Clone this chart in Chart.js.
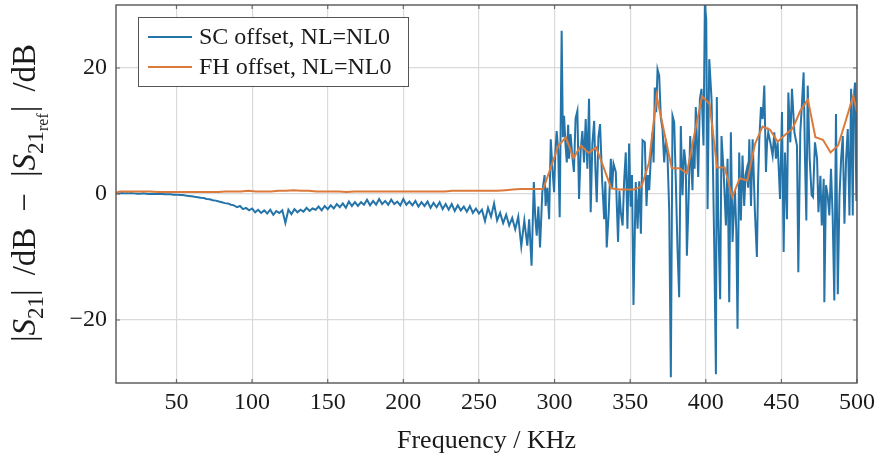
<!DOCTYPE html>
<html>
<head>
<meta charset="utf-8">
<script src="https://cdn.jsdelivr.net/npm/chart.js@4.4.1/dist/chart.umd.min.js"></script>
<style>
html, body { margin: 0; padding: 0; background: #fff; }
</style>
</head>
<body>
<canvas id="chart" width="877" height="457"></canvas>
<script>
// SC offset, low band: 10..280 KHz every 2 KHz
const scLowFreq = []
for (let f = 10; f <= 280; f += 2) scLowFreq.push(f)
const scLowDb = [
	0.2, 0.1, 0.15, 0.1, 0.1, 0.15, 0.1, 0.05, 0.05, 0.1,
	0.05, 0.0, 0.05, 0.0, 0.0, 0.05, -0.05, -0.05, -0.05, -0.1,
	-0.1, -0.15, -0.15, -0.25, -0.3, -0.35, -0.45, -0.5, -0.6, -0.65,
	-0.8, -0.85, -1.0, -1.05, -1.2, -1.3, -1.45, -1.5, -1.7, -1.8,
	-2.1, -1.9, -2.4, -2.2, -2.6, -2.3, -2.9, -2.5, -3.0, -2.6,
	-3.1, -2.5, -3.3, -2.7, -3.0, -2.6, -4.6, -2.5, -3.2, -2.4,
	-2.9, -2.5, -2.8, -2.2, -2.7, -2.3, -2.5, -2.0, -2.6, -1.9,
	-2.4, -1.8, -2.3, -1.6, -2.1, -1.5, -2.2, -1.2, -1.9, -1.3,
	-1.9, -1.3, -1.7, -0.9, -1.8, -1.1, -1.7, -0.8, -1.6, -1.1,
	-1.7, -0.9, -1.6, -1.2, -1.8, -0.8, -1.7, -1.2, -1.8, -1.1,
	-2.0, -1.3, -1.9, -1.2, -2.2, -1.4, -2.1, -1.3, -2.4, -1.6,
	-2.5, -1.6, -2.7, -1.8, -2.6, -2.0, -2.8, -1.9, -3.0, -2.3,
	-3.1, -2.5, -4.3, -2.2, -3.6, -1.5, -4.2, -3.0, -4.6, -3.3,
	-5.0, -3.8, -5.6, -3.6, -8.3, -4.2
]

// SC offset, high band (uneven spacing)
const scHighFreq = [
	282.0, 283.2, 284.8, 286.3, 287.2, 288.2, 289.3, 290.4, 291.9, 293.4,
	294.1, 295.2, 296.4, 297.5, 298.6, 299.7, 300.5, 301.4, 302.4, 303.4,
	304.7, 305.5, 306.3, 307.2, 308.1, 309.0, 309.6, 310.6, 311.7, 312.8,
	313.9, 315.1, 316.2, 317.3, 318.4, 319.5, 320.6, 321.7, 322.8, 323.9,
	325.0, 326.2, 327.0, 327.9, 329.0, 330.1, 331.5, 332.8, 333.6, 334.5,
	335.8, 337.2, 338.1, 339.0, 340.5, 341.2, 342.0, 342.9, 343.8, 345.0,
	346.0, 347.1, 348.2, 349.3, 350.3, 351.2, 352.2, 353.7, 354.9, 356.0,
	357.1, 358.2, 359.7, 360.8, 361.7, 362.6, 363.7, 364.8, 365.5, 366.3,
	367.2, 368.1, 369.2, 370.3, 371.4, 372.5, 373.6, 374.7, 375.8, 376.9,
	378.0, 379.1, 380.2, 381.3, 382.4, 383.5, 384.6, 385.7, 386.8, 387.5,
	388.4, 389.7, 391.2, 391.9, 392.6, 393.4, 395.0, 396.1, 397.2, 398.5,
	399.4, 400.3, 401.2, 402.3, 403.8, 404.7, 405.6, 406.7, 407.3, 408.2,
	409.5, 410.4, 411.8, 413.3, 414.4, 415.5, 416.6, 417.7, 418.5, 419.3,
	420.2, 421.0, 422.1, 423.2, 424.3, 425.4, 426.3, 427.2, 428.0, 428.8,
	429.9, 431.0, 432.5, 433.8, 434.6, 435.4, 436.5, 437.6, 438.7, 439.8,
	440.5, 441.3, 442.7, 444.2, 445.3, 446.4, 447.5, 449.1, 450.4, 451.5,
	452.4, 453.7, 454.6, 455.9, 457.0, 458.6, 460.3, 461.2, 462.5, 463.4,
	464.7, 465.6, 466.5, 467.4, 468.7, 470.0, 470.9, 472.2, 473.6, 474.5,
	475.8, 476.7, 478.0, 478.4, 479.5, 480.6, 481.7, 482.8, 483.9, 485.0,
	486.1, 487.3, 488.4, 489.5, 490.6, 491.7, 492.8, 493.9, 495.0, 496.1,
	497.2, 497.8, 498.7, 499.6, 500.5
]
const scHighDb = [
	-8.2, -4.0, -11.4, 1.9, -3.5, -6.6, -2.0, -8.5, 0.3, 3.0,
	-1.9, 1.0, -4.0, 8.7, 4.0, 0.3, 6.5, 10.0, 7.0, -3.7,
	25.9, 9.0, 12.4, 8.0, 5.0, 11.0, 5.6, 9.5, 6.1, 3.5,
	12.0, 13.2, -0.8, 7.0, 10.0, 5.0, 11.9, 4.0, 15.1, -2.9,
	8.0, 11.6, 4.0, -1.3, 9.0, 11.1, 2.0, -4.0, 2.0, -8.5,
	-3.0, 5.6, 1.0, 4.8, 3.5, -2.0, -7.6, 0.5, -2.9, -5.0,
	2.0, 6.6, -5.5, 8.0, -2.0, 3.0, -17.6, 1.9, -5.5, 2.0,
	-6.3, 8.5, 8.2, -1.9, 3.0, 0.6, 6.0, 9.8, 5.0, 16.9,
	13.0, 19.8, 18.8, 12.0, 10.3, 5.0, 8.7, 6.0, -2.4, -29.1,
	12.4, 11.4, 2.0, -8.7, -16.4, 10.8, -0.2, 7.1, 4.5, -9.8,
	-2.9, 9.2, 0.6, 8.2, 4.0, 13.8, 2.7, 15.1, 16.7, 7.7,
	30.2, 27.8, -2.4, 21.4, 15.1, 5.0, -8.5, -28.6, 15.4, -3.4,
	-16.7, 9.2, 3.5, -5.0, 5.6, -17.2, 9.8, -7.6, -3.0, 0.6,
	-6.0, -21.4, 6.6, -4.2, 6.1, -1.9, 3.0, 4.0, 1.0, 8.7,
	-1.9, 8.7, -2.9, -10.0, 2.0, 8.7, 13.8, 11.9, 17.2, 3.5,
	8.0, 9.8, 8.2, 6.1, 9.8, 5.6, 8.2, -0.8, 13.0, -9.2,
	6.6, -4.0, 16.1, 8.2, 16.7, 9.8, 7.7, -12.4, 9.8, 13.5,
	19.3, 5.6, -4.2, 17.2, 5.6, -0.2, -0.5, 8.2, 5.6, -2.9,
	2.9, -5.0, 2.4, -17.2, 1.4, -0.2, -3.4, 4.0, -3.4, -16.9,
	12.7, -15.9, -0.5, 5.6, 9.2, -4.7, 5.6, 10.3, -3.4, 16.7,
	-3.4, 15.1, 17.7, -1.1, 17.7
]

// FH offset: 10, 12.5, 17.5, ..., 497.5, 500 KHz
const fhFreq = [10]
for (let f = 12.5; f <= 497.5; f += 5) fhFreq.push(f)
fhFreq.push(500)
const fhDb = [
	0.2,
	0.4, 0.4, 0.4, 0.4, 0.4, 0.3, 0.3, 0.3, 0.3, 0.3, 0.3,
	0.3, 0.3, 0.3, 0.4, 0.4, 0.4, 0.5, 0.4, 0.4, 0.4, 0.5,
	0.5, 0.6, 0.5, 0.5, 0.4, 0.4, 0.4, 0.4, 0.3, 0.4, 0.4,
	0.4, 0.4, 0.4, 0.4, 0.4, 0.4, 0.4, 0.4, 0.4, 0.4, 0.4,
	0.5, 0.5, 0.5, 0.5, 0.5, 0.5, 0.5, 0.6, 0.7, 0.8, 0.8, 0.8,
	0.8, 4.2, 7.7, 9.0, 5.7, 7.7, 6.5, 7.4, 4.2, 0.9, 0.7,
	0.7, 0.7, 1.2, 5.0, 15.6, 9.8, 4.1, 4.1, 3.3, 9.5, 15.5,
	14.3, 4.2, 4.2, -0.5, 2.5, 2.1, 7.9, 10.7, 10.2, 8.3, 9.4,
	10.4, 13.2, 15.0, 9.0, 8.6, 6.6, 7.7, 11.6, 15.6,
	13.0
]

const xTicks = [50, 100, 150, 200, 250, 300, 350, 400, 450, 500]
const yTicks = [-20, 0, 20]
const seriesNames = ['SC offset, NL=NL0', 'FH offset, NL=NL0']
const seriesColors = ['#2574a9', '#db7a3b']

const serif = "'Liberation Serif', 'DejaVu Serif', serif"

let scPoints = scLowFreq.map((f, i) => ({ x: f, y: scLowDb[i] }))
scHighFreq.forEach((f, i) => scPoints.push({ x: f, y: scHighDb[i] }))
let fhPoints = fhFreq.map((f, i) => ({ x: f, y: fhDb[i] }))

// drop the label overflow padding so the plot box sits where it should
function noLabelPadding(s) {
	s.paddingLeft = 0
	s.paddingRight = 0
	s.paddingTop = 0
	s.paddingBottom = 0
}

// frame + inner tick marks, pgfplots style
const framePlugin = {
	id: 'frame',
	afterDatasetsDraw(chart) {
		const ctx = chart.ctx
		const a = chart.chartArea
		const xs = chart.scales.x
		const ys = chart.scales.y
		ctx.save()
		ctx.strokeStyle = '#6b6b6b'
		ctx.lineWidth = 1.2
		ctx.beginPath()
		xTicks.forEach(v => {
			let px = xs.getPixelForValue(v)
			ctx.moveTo(px, a.bottom); ctx.lineTo(px, a.bottom - 4)
			ctx.moveTo(px, a.top); ctx.lineTo(px, a.top + 4)
		})
		yTicks.forEach(v => {
			let py = ys.getPixelForValue(v)
			ctx.moveTo(a.left, py); ctx.lineTo(a.left + 4, py)
			ctx.moveTo(a.right, py); ctx.lineTo(a.right - 4, py)
		})
		ctx.stroke()
		ctx.strokeStyle = '#555'
		ctx.lineWidth = 1.4
		ctx.strokeRect(a.left, a.top, a.right - a.left, a.bottom - a.top)
		ctx.restore()
	}
}

// legend box in the top left corner of the plot
const legendPlugin = {
	id: 'boxLegend',
	afterDraw(chart) {
		const ctx = chart.ctx
		ctx.save()
		ctx.fillStyle = '#fff'
		ctx.fillRect(138.5, 17.5, 270, 69)
		ctx.strokeStyle = '#555'
		ctx.lineWidth = 1
		ctx.strokeRect(138.5, 17.5, 270, 69)
		ctx.font = '24px ' + serif
		ctx.textBaseline = 'middle'
		seriesNames.forEach((name, i) => {
			let y = 37 + i * 30
			ctx.strokeStyle = seriesColors[i]
			ctx.lineWidth = 2
			ctx.beginPath()
			ctx.moveTo(148, y); ctx.lineTo(192, y)
			ctx.stroke()
			ctx.fillStyle = '#1a1a1a'
			ctx.fillText(name, 199, y + 1)
		})
		ctx.restore()
	}
}

// rotated y title with italic S and subscripts: [text, font, shift down, gap after]
const yTitlePlugin = {
	id: 'yTitle',
	afterDraw(chart) {
		const ctx = chart.ctx
		const parts = [
			['|', 'normal 33px', 0, 0],
			['S', 'italic 33px', 0, 0],
			['21', 'normal 23px', 8, 0],
			['|', 'normal 33px', 0, 14],
			['/dB', 'normal 33px', 0, 16],
			['\u2212', 'normal 33px', 0, 16],
			['|', 'normal 33px', 0, 0],
			['S', 'italic 33px', 0, 0],
			['21', 'normal 23px', 8, 0],
			['ref', 'normal 16px', 13, 1],
			['|', 'normal 33px', 0, 14],
			['/dB', 'normal 33px', 0, 0]
		]
		ctx.save()
		let total = 0
		parts.forEach(p => {
			ctx.font = p[1] + ' ' + serif
			total += ctx.measureText(p[0]).width + p[3]
		})
		ctx.translate(26, 193)
		ctx.rotate(-Math.PI / 2)
		ctx.fillStyle = '#1a1a1a'
		ctx.textBaseline = 'alphabetic'
		let x = -total / 2
		parts.forEach(p => {
			ctx.font = p[1] + ' ' + serif
			ctx.fillText(p[0], x, 9 + p[2])
			x += ctx.measureText(p[0]).width + p[3]
		})
		ctx.restore()
	}
}

const ctx = document.querySelector('#chart')
const offsetChart = new Chart(ctx, {
	type: 'line',
	data: {
		datasets: [
			{
				label: seriesNames[0],
				data: scPoints,
				borderColor: seriesColors[0],
				borderWidth: 2,
				pointRadius: 0,
				tension: 0,
				fill: false,
				order: 2
			},
			{
				label: seriesNames[1],
				data: fhPoints,
				borderColor: seriesColors[1],
				borderWidth: 2,
				pointRadius: 0,
				tension: 0,
				fill: false,
				order: 1
			}
		]
	},
	options: {
		responsive: false,
		animation: false,
		devicePixelRatio: 1,
		layout: { padding: { top: 5, right: 20, left: 0, bottom: 0 } },
		plugins: {
			legend: { display: false },
			tooltip: { enabled: false }
		},
		scales: {
			x: {
				type: 'linear',
				min: 10,
				max: 500,
				afterBuildTicks: s => { s.ticks = xTicks.map(v => ({ value: v })) },
				afterFit: s => { s.height = 74; noLabelPadding(s) },
				grid: { color: '#dadada', lineWidth: 1.2, drawTicks: false },
				border: { display: false },
				ticks: {
					font: { family: serif, size: 24 },
					color: '#1a1a1a',
					padding: 5,
					maxRotation: 0,
					autoSkip: false,
					callback: v => String(v)
				},
				title: {
					display: true,
					text: 'Frequency / KHz',
					font: { family: serif, size: 26 },
					color: '#1a1a1a',
					padding: { top: 0, bottom: 0 }
				}
			},
			y: {
				min: -30,
				max: 30,
				afterBuildTicks: s => { s.ticks = yTicks.map(v => ({ value: v })) },
				afterFit: s => { s.width = 116; noLabelPadding(s) },
				grid: { color: '#dadada', lineWidth: 1.2, drawTicks: false },
				border: { display: false },
				ticks: {
					font: { family: serif, size: 24 },
					color: '#1a1a1a',
					padding: 9,
					callback: v => v < 0 ? '\u2212' + Math.abs(v) : String(v)
				}
			}
		}
	},
	plugins: [framePlugin, legendPlugin, yTitlePlugin]
})
</script>
</body>
</html>
